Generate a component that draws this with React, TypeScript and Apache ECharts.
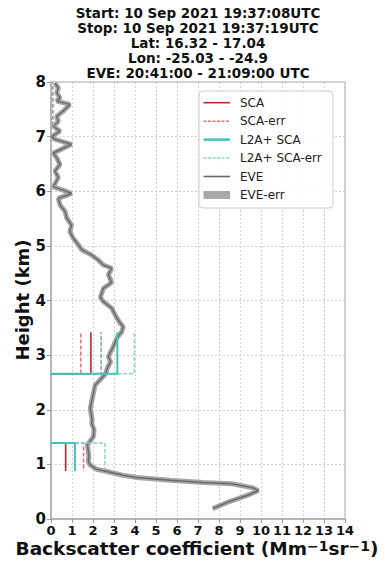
import React, { useEffect, useRef } from "react";
import * as echarts from "echarts";

const titleLines = [
  "Start: 10 Sep 2021 19:37:08UTC",
  "Stop: 10 Sep 2021 19:37:19UTC",
  "Lat: 16.32 - 17.04",
  "Lon: -25.03 - -24.9",
  "EVE: 20:41:00 - 21:09:00 UTC",
];
const yAxisName = "Height (km)";
const xAxisNameParts = ["Backscatter coefficient (Mm", "\u22121", "sr", "\u22121", ")"];

// EVE profile (km, Mm-1 sr-1)
const eveHeight = [
  0.19, 0.32, 0.44, 0.52, 0.57, 0.645, 0.67, 0.71, 0.76, 0.8, 0.87, 0.91, 0.99, 1.05, 1.15,
  1.23, 1.36, 1.42, 1.51, 1.63, 1.75, 1.82, 1.9, 2.03, 2.27, 2.45, 2.66, 2.76, 2.88, 2.97,
  3.06, 3.16, 3.31, 3.43, 3.52, 3.61, 3.74, 3.86, 3.98, 4.06, 4.22, 4.33, 4.47, 4.59, 4.65,
  4.74, 4.83, 4.93, 5.02, 5.14, 5.26, 5.38, 5.51, 5.63, 5.75, 5.87, 5.96, 6.03, 6.08, 6.25,
  6.37, 6.49, 6.61, 6.7, 6.86, 6.95, 7.0, 7.1, 7.19, 7.28, 7.37, 7.47, 7.59, 7.65, 7.71,
  7.8, 7.89, 7.98,
];
const eveValue = [
  7.7, 8.5, 9.4, 9.87, 9.63, 8.6, 7.25, 5.67, 4.08, 3.43, 2.65, 2.17, 1.86, 1.78, 1.8,
  1.78, 1.73, 1.86, 2.02, 2.05, 1.94, 1.96, 1.92, 1.87, 2.0, 2.1, 2.6, 2.68, 2.84, 2.73,
  2.84, 2.97, 3.13, 3.37, 3.44, 3.25, 3.05, 2.89, 2.49, 2.35, 2.49, 2.89, 2.73, 2.89, 2.49,
  2.25, 1.94, 1.46, 1.3, 1.06, 0.9, 0.98, 0.75, 0.67, 0.43, 0.35, 0.98, 0.51, 0.11, 0.35,
  0.19, 0.43, 0.27, 0.11, 0.98, 0.19, 0.03, 0.43, 0.11, 0.35, 0.27, 0.59, 0.9, 0.27, 0.43,
  0.27, 0.35, 0.19,
];

// Aeolus layers (step plot): horizontal edge at anchor height, vertical to end height
const layerAnchor = [1.39, 2.66];
const layerEnd = [0.88, 3.42];
const scaValue = [0.7, 1.9];
const scaErrLow = [-0.15, 1.42];
const scaErrHigh = [1.55, 2.39];
const l2aValue = [1.14, 3.16];
const l2aErrLow = [-0.3, 2.37];
const l2aErrHigh = [2.57, 3.97];
const l2aErrHighEnd = [0.93, 3.42];
// near-zero values in the upper layer
const upperLayerHeights = [7.2, 8.0];
const upperLayerValue = [0.08];

const legendNames = ["SCA", "SCA-err", "L2A+ SCA", "L2A+ SCA-err", "EVE", "EVE-err"];

const RED = "#c0282d";
const RED_ERR = "#e0737a";
const TEAL = "#3fc4b8";
const TEAL_ERR = "#7ed9d0";
const GREY = "#6a6a6a";
const GREY_BAND = "#a8a8a8";
const FONT = "DejaVu Sans";

function stepData(i: number, v: number, end?: number) {
  return [
    [0, layerAnchor[i]],
    [v, layerAnchor[i]],
    [v, end ?? layerEnd[i]],
  ];
}

function lineSeries(name: string, data: number[][], color: string, width: number, dashed: boolean, z = 3) {
  return {
    type: "line",
    name,
    data,
    symbol: "none",
    z,
    silent: true,
    lineStyle: { color, width, type: dashed ? [4, 2] : "solid" },
  };
}

export default function App() {
  const ref = useRef<HTMLDivElement>(null);
  useEffect(() => {
    if (!ref.current) return;
    const chart = echarts.init(ref.current, undefined, { renderer: "svg" });
    const eveData = eveHeight.map((h, i) => [eveValue[i], h]);

    const series: any[] = [
      lineSeries("EVE-err", eveData, GREY_BAND, 5, false, 2),
      lineSeries("EVE", eveData, GREY, 1.5, false, 2),
    ];
    [0, 1].forEach((i) => {
      series.push(lineSeries("SCA-err", stepData(i, scaErrLow[i]), RED_ERR, 1.5, true));
      series.push(lineSeries("SCA-err", stepData(i, scaErrHigh[i]), RED_ERR, 1.5, true));
      series.push(lineSeries("L2A+ SCA-err", stepData(i, l2aErrLow[i]), TEAL_ERR, 1.5, true));
      series.push(lineSeries("L2A+ SCA-err", stepData(i, l2aErrHigh[i], l2aErrHighEnd[i]), TEAL_ERR, 1.5, true));
      series.push(lineSeries("SCA", stepData(i, scaValue[i]), RED, 1.6, false, 4));
      series.push(lineSeries("L2A+ SCA", stepData(i, l2aValue[i]), TEAL, 2, false, 4));
    });
    series.push(
      lineSeries("SCA-err", upperLayerHeights.map((h) => [upperLayerValue[0], h]), RED_ERR, 1.2, true, 4)
    );
    series.push(
      lineSeries("L2A+ SCA-err", upperLayerHeights.map((h) => [upperLayerValue[0] + 0.05, h]), TEAL_ERR, 1.2, true, 4)
    );

    const legendX = 199;
    const legendY = 91;
    const rowGap = 18.45;
    const legendStyles: any[] = [
      { color: RED, dashed: false, width: 1.6 },
      { color: RED_ERR, dashed: true, width: 1.5 },
      { color: TEAL, dashed: false, width: 2.5 },
      { color: TEAL_ERR, dashed: true, width: 1.5 },
      { color: GREY, dashed: false, width: 1.6 },
      { color: GREY_BAND, rect: true },
    ];
    const legendGraphics: any[] = [
      {
        type: "rect",
        shape: { x: legendX, y: legendY, width: 134, height: 117, r: 4 },
        style: { fill: "rgba(255,255,255,0.85)", stroke: "#cccccc", lineWidth: 1 },
        z: 100,
      },
    ];
    legendNames.forEach((name, i) => {
      const cy = legendY + 11.7 + i * rowGap;
      const st = legendStyles[i];
      if (st.rect) {
        legendGraphics.push({
          type: "rect",
          shape: { x: 203.5, y: cy - 4, width: 26.5, height: 8 },
          style: { fill: st.color },
          z: 101,
        });
      } else {
        legendGraphics.push({
          type: "line",
          shape: { x1: 203.5, y1: cy, x2: 230, y2: cy },
          style: { stroke: st.color, lineWidth: st.width, lineDash: st.dashed ? [3, 1.5] : null },
          z: 101,
        });
      }
      legendGraphics.push({
        type: "text",
        x: 240,
        y: cy,
        style: {
          text: name,
          fontSize: 12,
          fontFamily: FONT,
          fill: "#222",
          textAlign: "left",
          textVerticalAlign: "middle",
        },
        z: 101,
      });
    });

    const titleGraphics = titleLines.map((t, i) => ({
      type: "text",
      x: 198,
      y: 12.5 + i * 15.1,
      style: {
        text: t,
        fontSize: 13.5,
        fontWeight: "bold",
        fontFamily: FONT,
        fill: "#111",
        textAlign: "center",
        textVerticalAlign: "middle",
      },
    }));

    const option: any = {
      animation: false,
      grid: {
        left: 51,
        top: 82,
        width: 294,
        height: 437,
        show: true,
        borderColor: "#aaaaaa",
        borderWidth: 1,
      },
      xAxis: {
        type: "value",
        min: 0,
        max: 14,
        interval: 1,
        axisLine: { show: true, lineStyle: { color: "#aaaaaa", width: 1.5 } },
        axisTick: { show: true, length: 4, lineStyle: { color: "#999" } },
        axisLabel: {
          interval: 0,
          margin: 5,
          fontSize: 13,
          lineHeight: 13,
          fontWeight: "bold",
          fontFamily: FONT,
          color: "#111",
        },
        splitLine: { show: true, lineStyle: { color: "#c4c4c4", type: [2, 2], width: 0.8 } },
      },
      yAxis: {
        type: "value",
        min: 0,
        max: 8,
        interval: 1,
        axisLine: { show: true, lineStyle: { color: "#aaaaaa", width: 1.5 } },
        axisTick: { show: true, length: 4, lineStyle: { color: "#999" } },
        axisLabel: {
          margin: 5,
          fontSize: 15,
          fontWeight: "bold",
          fontFamily: FONT,
          color: "#111",
        },
        splitLine: { show: true, lineStyle: { color: "#c4c4c4", type: [2, 2], width: 0.8 } },
      },
      series,
      graphic: [
        ...titleGraphics,
        {
          type: "text",
          x: 22,
          y: 300,
          rotation: Math.PI / 2,
          style: {
            text: yAxisName,
            fontSize: 18,
            fontWeight: "bold",
            fontFamily: FONT,
            fill: "#111",
            textAlign: "center",
            textVerticalAlign: "middle",
          },
        },
        {
          type: "text",
          x: 197,
          y: 548.5,
          style: {
            text: `{a|${xAxisNameParts[0]}}{s|${xAxisNameParts[1]}}{a|${xAxisNameParts[2]}}{s|${xAxisNameParts[3]}}{a|${xAxisNameParts[4]}}`,
            rich: {
              a: { fontSize: 18.5, fontWeight: "bold", fontFamily: FONT, fill: "#111", lineHeight: 20 },
              s: { fontSize: 14, fontWeight: "bold", fontFamily: FONT, fill: "#111", lineHeight: 11, verticalAlign: "top" },
            },
            textAlign: "center",
            textVerticalAlign: "middle",
          },
        },
        ...legendGraphics,
      ],
    };
    chart.setOption(option);
    return () => chart.dispose();
  }, []);
  return <div ref={ref} style={{ width: 388, height: 564, position: "absolute", left: 0, top: 0 }} />;
}
